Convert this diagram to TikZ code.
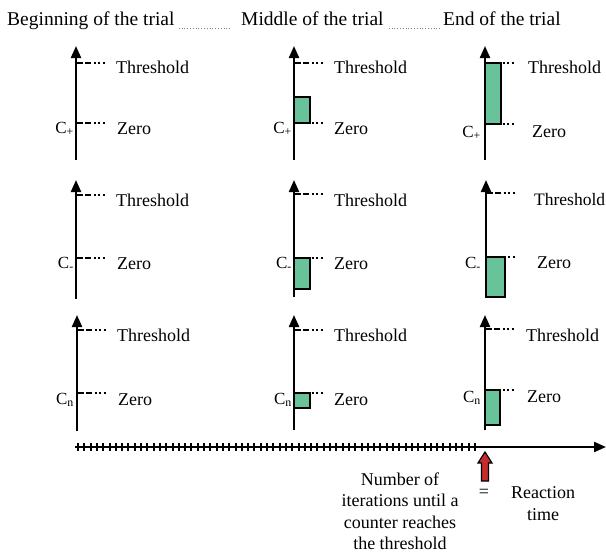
\documentclass[tikz,border=0pt]{standalone}
\usepackage{fontspec}
\setmainfont{Liberation Serif}
\usetikzlibrary{arrows.meta}
\definecolor{bargreen}{RGB}{104,194,154}
\definecolor{arrred}{RGB}{200,45,45}
\tikzset{
  vaxis/.style={line width=2.2pt,-{Triangle[width=10pt,length=12pt]}},
  lvl/.style={line width=1.7pt,dash pattern=on 7pt off 2pt on 6pt off 2.5pt on 2pt off 2.5pt on 2pt off 2.5pt on 2pt off 20pt},
  bar/.style={draw=black,line width=1.8pt,fill=bargreen},
  lbl/.style={font=\fontsize{18}{20}\selectfont,anchor=base west,inner sep=0pt},
  clbl/.style={font=\fontsize{17}{20}\selectfont,anchor=base east,inner sep=0pt},
  ttl/.style={font=\fontsize{19.5}{22}\selectfont,anchor=base west,inner sep=0pt},
  tdot/.style={gray,line width=0.8pt,dotted},
  tick/.style={line width=2pt}
}
\begin{document}
\begin{tikzpicture}[x=1pt,y=-1pt]
\useasboundingbox (0,0) rectangle (606,554);
% titles
\node[ttl] (t1) at (7,25) {Beginning of the trial};
\node[ttl] (t2) at (241,25) {Middle of the trial};
\node[ttl] (t3) at (443,25) {End of the trial};
\draw[tdot] (t1.base east)++(4,3) coordinate (d1a) -- ++(53,0) coordinate (d1b);
\draw[tdot] (t2.base east)++(5,3) coordinate (d2a) -- ++(52,0) coordinate (d2b);

% ---------- Row 1 (C+) ----------
% col 1
\coordinate (a11b) at (76,160); \coordinate (a11t) at (76,46);
\draw[vaxis] (a11b) -- (a11t);
\draw[lvl] (76,63) coordinate (th11) -- ++(30,0);
\draw[lvl] (76,123) coordinate (z11) -- ++(30,0);
\node[lbl] (T11) at (116,73) {Threshold};
\node[lbl] (Z11) at (117,134) {Zero};
\node[clbl] (C11) at (74,133) {C\textsubscript{+}};
% col 2
\coordinate (a12b) at (294,160); \coordinate (a12t) at (294,46);
\draw[vaxis] (a12b) -- (a12t);
\draw[lvl] (294,63) coordinate (th12) -- ++(30,0);
\draw[lvl] (294,123) coordinate (z12) -- ++(30,0);
\draw[bar] (294,97) rectangle (310,123);
\node[lbl] (T12) at (334,73) {Threshold};
\node[lbl] (Z12) at (334,134) {Zero};
\node[clbl] (C12) at (292,133) {C\textsubscript{+}};
% col 3
\coordinate (a13b) at (485,160); \coordinate (a13t) at (485,46);
\draw[vaxis] (a13b) -- (a13t);
\draw[lvl] (485,63) coordinate (th13) -- ++(30,0);
\draw[lvl] (485,124) coordinate (z13) -- ++(30,0);
\draw[bar] (485,63) rectangle (501,124);
\node[lbl] (T13) at (528,73) {Threshold};
\node[lbl] (Z13) at (532,137) {Zero};
\node[clbl] (C13) at (481,137) {C\textsubscript{+}};

% ---------- Row 2 (C-) ----------
\coordinate (a21b) at (76,299); \coordinate (a21t) at (76,180);
\draw[vaxis] (a21b) -- (a21t);
\draw[lvl] (76,195) coordinate (th21) -- ++(30,0);
\draw[lvl] (76,258) coordinate (z21) -- ++(30,0);
\node[lbl] (T21) at (116,206) {Threshold};
\node[lbl] (Z21) at (117,269) {Zero};
\node[clbl] (C21) at (74,268) {C\textsubscript{-}};
% col 2
\coordinate (a22b) at (294,297); \coordinate (a22t) at (294,180);
\draw[vaxis] (a22b) -- (a22t);
\draw[lvl] (294,194) coordinate (th22) -- ++(30,0);
\draw[lvl] (294,258) coordinate (z22) -- ++(30,0);
\draw[bar] (294,258) rectangle (310,289);
\node[lbl] (T22) at (334,206) {Threshold};
\node[lbl] (Z22) at (334,269) {Zero};
\node[clbl] (C22) at (292,268) {C\textsubscript{-}};
% col 3
\coordinate (a23b) at (486,297); \coordinate (a23t) at (486,180);
\draw[vaxis] (a23b) -- (a23t);
\draw[lvl] (486,193) coordinate (th23) -- ++(32,0);
\draw[lvl] (486,257) coordinate (z23) -- ++(32,0);
\draw[bar] (486,257) rectangle (505,297);
\node[lbl,font=\fontsize{17.5}{20}\selectfont] (T23) at (534,205) {Threshold};
\node[lbl] (Z23) at (537,268) {Zero};
\node[clbl] (C23) at (481,268) {C\textsubscript{-}};

% ---------- Row 3 (Cn) ----------
\coordinate (a31b) at (77,431); \coordinate (a31t) at (77,315);
\draw[vaxis] (a31b) -- (a31t);
\draw[lvl] (77,330) coordinate (th31) -- ++(30,0);
\draw[lvl] (77,393) coordinate (z31) -- ++(30,0);
\node[lbl] (T31) at (117,341) {Threshold};
\node[lbl] (Z31) at (118,405) {Zero};
\node[clbl] (C31) at (74,404) {C\textsubscript{n}};
% col 2
\coordinate (a32b) at (294,430); \coordinate (a32t) at (294,315);
\draw[vaxis] (a32b) -- (a32t);
\draw[lvl] (294,330) coordinate (th32) -- ++(30,0);
\draw[lvl] (294,393) coordinate (z32) -- ++(30,0);
\draw[bar] (294,393) rectangle (310,408);
\node[lbl] (T32) at (334,341) {Threshold};
\node[lbl] (Z32) at (334,405) {Zero};
\node[clbl] (C32) at (292,404) {C\textsubscript{n}};
% col 3
\coordinate (a33b) at (485,430); \coordinate (a33t) at (485,315);
\draw[vaxis] (a33b) -- (a33t);
\draw[lvl] (485,329) coordinate (th33) -- ++(30,0);
\draw[lvl] (485,390) coordinate (z33) -- ++(30,0);
\draw[bar] (485,390) rectangle (500,425);
\node[lbl] (T33) at (526,341) {Threshold};
\node[lbl] (Z33) at (527,402) {Zero};
\node[clbl] (C33) at (481,402) {C\textsubscript{n}};

% ---------- Time axis ----------
\coordinate (ta) at (75,447); \coordinate (tb) at (606,447);
\draw[line width=2.2pt,-{Triangle[width=10pt,length=12pt]}] (ta) -- (tb);
\foreach \i in {0,...,63} {
  \draw[tick] (78+\i*6.3,443) -- (78+\i*6.3,451);
}
% red arrow
\coordinate (ra) at (485,452);
\draw[line width=1.2pt,fill=arrred,line join=miter]
  (ra) -- (492,463) -- (488.5,463) -- (488.5,481) -- (481.5,481) -- (481.5,463) -- (478,463) -- cycle;

\node[font=\fontsize{18}{21.5}\selectfont,align=center,inner sep=0pt] (nit) at (400,511)
  {Number of\\iterations until a\\counter reaches\\the threshold};
\node[font=\fontsize{18}{20}\selectfont,inner sep=0pt] (eq) at (484,493) {=};
\node[font=\fontsize{18}{22}\selectfont,align=center,inner sep=0pt] (rt) at (543,504)
  {Reaction\\time};
\end{tikzpicture}
\end{document}
